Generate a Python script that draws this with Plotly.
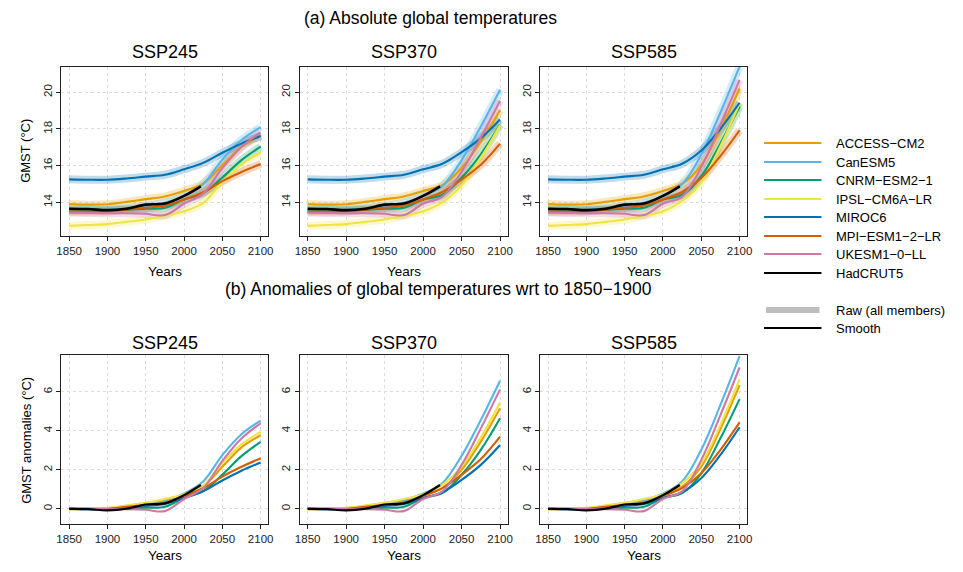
import plotly.graph_objects as go

# ---------------- data ----------------
MODELS = ["ACCESS−CM2", "CanESM5", "CNRM−ESM2−1", "IPSL−CM6A−LR",
          "MIROC6", "MPI−ESM1−2−LR", "UKESM1−0−LL"]
COLORS = ["#E69F00", "#56B4E9", "#009E73", "#F0E442",
          "#0072B2", "#D55E00", "#CC79A7"]
SCENARIOS = ["SSP245", "SSP370", "SSP585"]

HIST_YEARS = [1850, 1875, 1900, 1925, 1950, 1975, 2000]
FUT_YEARS = [2025, 2050, 2075, 2100]

# 1850-1900 mean absolute GMST (°C) per model
BASELINE = [13.87, 13.58, 13.60, 12.76, 15.25, 13.50, 13.42]

# smoothed anomalies wrt 1850-1900 (°C), historical part (shared)
ANOM_HIST = [
    [0.03, 0.00, 0.02, 0.15, 0.30, 0.45, 0.75],    # ACCESS
    [0.00, -0.02, 0.00, 0.10, 0.22, 0.40, 0.78],   # CanESM5
    [0.00, 0.00, -0.02, 0.00, 0.05, 0.10, 0.55],   # CNRM
    [-0.05, 0.00, 0.05, 0.17, 0.30, 0.50, 0.75],   # IPSL
    [0.00, -0.02, -0.02, 0.05, 0.15, 0.25, 0.55],  # MIROC6
    [0.00, 0.00, 0.00, 0.10, 0.20, 0.32, 0.65],    # MPI
    [0.02, 0.00, -0.02, -0.02, -0.05, -0.12, 0.50],  # UKESM
]

ANOM_SSP245 = [
    [1.15, 2.15, 3.15, 3.77],
    [1.40, 2.75, 3.82, 4.52],
    [0.90, 1.75, 2.70, 3.43],
    [1.20, 2.35, 3.30, 3.94],
    [0.90, 1.45, 1.95, 2.37],
    [1.05, 1.65, 2.15, 2.59],
    [1.05, 2.45, 3.60, 4.38],
]
ANOM_SSP370 = [
    [1.06, 2.00, 3.44, 5.15],
    [1.31, 2.71, 4.55, 6.56],
    [0.80, 1.74, 3.02, 4.64],
    [1.23, 2.16, 3.66, 5.45],
    [0.85, 1.48, 2.25, 3.27],
    [1.06, 1.74, 2.55, 3.70],
    [0.89, 2.25, 4.12, 6.12],
]
ANOM_SSP585 = [
    [1.14, 2.16, 4.09, 6.34],
    [1.40, 3.02, 5.32, 7.82],
    [0.80, 1.82, 3.61, 5.62],
    [1.31, 2.33, 4.30, 6.63],
    [0.85, 1.57, 2.76, 4.18],
    [1.06, 1.82, 3.02, 4.43],
    [0.89, 2.50, 4.80, 7.24],
]
ANOM_FUT = {"SSP245": ANOM_SSP245, "SSP370": ANOM_SSP370, "SSP585": ANOM_SSP585}

OBS_NAME = "HadCRUT5"
OBS_YEARS = [1850, 1875, 1900, 1925, 1950, 1975, 2000, 2022]
OBS_ANOM = [0.00, -0.02, -0.08, 0.00, 0.22, 0.28, 0.70, 1.22]
OBS_BASELINE = 13.65

X_TICKS = [1850, 1900, 1950, 2000, 2050, 2100]
Y_TICKS_ABS = [14, 16, 18, 20]
Y_TICKS_ANOM = [0, 2, 4, 6]

# ---------------- layout helpers ----------------
OFF = 8                      # page body margin
W, H = 963 - OFF, 572 - OFF
FONT = "Liberation Sans, Arial, Helvetica, sans-serif"


def px_x(p):
    return (p - OFF) / W


def px_y(p):
    return 1 - (p - OFF) / H


COL_PX = [(57, 266), (298, 508), (541, 750)]
ROW_PX = [(67, 236), (355, 524)]
X_RANGE = [1840, 2110]
Y_RANGES = [[12.16, 21.38], [-0.78, 7.88]]

fig = go.Figure()
layout = {}

for r in range(2):
    for c, scen in enumerate(SCENARIOS):
        idx = r * 3 + c + 1
        xa = "x" if idx == 1 else f"x{idx}"
        ya = "y" if idx == 1 else f"y{idx}"
        xk = "xaxis" if idx == 1 else f"xaxis{idx}"
        yk = "yaxis" if idx == 1 else f"yaxis{idx}"
        layout[xk] = dict(
            domain=[px_x(COL_PX[c][0]), px_x(COL_PX[c][1])], anchor=ya,
            range=X_RANGE, tickvals=X_TICKS, ticks="outside", ticklen=4,
            tickcolor="#222", showline=True, mirror=True, linecolor="#222",
            linewidth=1.3, showgrid=True, gridcolor="#dcdcdc", griddash="dot",
            gridwidth=1, zeroline=False, tickfont=dict(size=11.5, color="#222"),
        )
        layout[yk] = dict(
            domain=[px_y(ROW_PX[r][1]), px_y(ROW_PX[r][0])], anchor=xa,
            range=Y_RANGES[r], tickvals=Y_TICKS_ABS if r == 0 else Y_TICKS_ANOM,
            ticks="outside", ticklen=4, tickcolor="#222", tickangle=-90,
            showline=True, mirror=True, linecolor="#222", linewidth=1.3,
            showgrid=True, gridcolor="#dcdcdc", griddash="dot", gridwidth=1,
            zeroline=False, tickfont=dict(size=11.5, color="#222"),
        )

        fut = ANOM_FUT[scen]
        years = HIST_YEARS + FUT_YEARS
        if r == 0:
            # raw members (drawn as a wide translucent band)
            for m in range(len(MODELS)):
                vals = [BASELINE[m] + v for v in ANOM_HIST[m] + fut[m]]
                fig.add_trace(go.Scatter(
                    x=years, y=vals, mode="lines", xaxis=xa, yaxis=ya,
                    line=dict(color=COLORS[m], width=8, shape="spline"),
                    opacity=0.25, showlegend=False, hoverinfo="skip"))
        for m in range(len(MODELS)):
            vals = ANOM_HIST[m] + fut[m]
            if r == 0:
                vals = [BASELINE[m] + v for v in vals]
            fig.add_trace(go.Scatter(
                x=years, y=vals, mode="lines", xaxis=xa, yaxis=ya,
                line=dict(color=COLORS[m], width=2.1, shape="spline"),
                name=MODELS[m], showlegend=False))
        obs = OBS_ANOM if r == 1 else [OBS_BASELINE + v for v in OBS_ANOM]
        fig.add_trace(go.Scatter(
            x=OBS_YEARS, y=obs, mode="lines", xaxis=xa, yaxis=ya,
            line=dict(color="black", width=2.6 if r == 0 else 2.2, shape="spline"),
            name=OBS_NAME, showlegend=False))

annotations = []
# main titles
annotations.append(dict(text="(a) Absolute global temperatures", x=px_x(430), y=px_y(18),
                        font=dict(size=17.5), borderpad=0))
annotations.append(dict(text="(b) Anomalies of global temperatures wrt to 1850−1900",
                        x=px_x(438), y=px_y(289), font=dict(size=17.5), borderpad=0))
for r, ty in enumerate([52, 343]):
    for c, scen in enumerate(SCENARIOS):
        cx = (COL_PX[c][0] + COL_PX[c][1]) / 2
        annotations.append(dict(text=scen, x=px_x(cx), y=px_y(ty), font=dict(size=18)))
        annotations.append(dict(text="Years", x=px_x(cx), y=px_y([271, 555][r]),
                                font=dict(size=13.5), borderpad=0))
annotations.append(dict(text="GMST (°C)", x=px_x(21), y=px_y(151), textangle=-90,
                        font=dict(size=13)))
annotations.append(dict(text="GMST anomalies (°C)", x=px_x(21), y=px_y(440), textangle=-90,
                        font=dict(size=13)))

# legend (manual)
shapes = []
LEG_Y = [143, 162, 180, 199, 217, 236, 254, 273]
leg_names = MODELS + [OBS_NAME]
leg_cols = COLORS + ["black"]
for i, (nm, col) in enumerate(zip(leg_names, leg_cols)):
    yy = px_y(LEG_Y[i])
    shapes.append(dict(type="line", xref="paper", yref="paper", x0=px_x(767), x1=px_x(825),
                       y0=yy, y1=yy, line=dict(color=col, width=2.2)))
    annotations.append(dict(text=nm, x=px_x(838), y=yy, xanchor="left", font=dict(size=13)))
shapes.append(dict(type="line", xref="paper", yref="paper", x0=px_x(769), x1=px_x(823),
                   y0=px_y(310), y1=px_y(310), line=dict(color="#bdbdbd", width=6)))
annotations.append(dict(text="Raw (all members)", x=px_x(838), y=px_y(310), xanchor="left",
                        font=dict(size=13)))
shapes.append(dict(type="line", xref="paper", yref="paper", x0=px_x(767), x1=px_x(825),
                   y0=px_y(328), y1=px_y(328), line=dict(color="black", width=2.2)))
annotations.append(dict(text="Smooth", x=px_x(838), y=px_y(328), xanchor="left",
                        font=dict(size=13)))

for a in annotations:
    a.setdefault("xref", "paper")
    a.setdefault("yref", "paper")
    a.setdefault("showarrow", False)
    a.setdefault("xanchor", "center")
    a.setdefault("yanchor", "middle")
    a["font"].setdefault("color", "black")

fig.update_layout(
    width=W, height=H, margin=dict(l=0, r=0, t=0, b=0),
    paper_bgcolor="white", plot_bgcolor="white",
    font=dict(family=FONT, color="black"),
    showlegend=False, annotations=annotations, shapes=shapes, **layout)

fig.write_html("out.html")
